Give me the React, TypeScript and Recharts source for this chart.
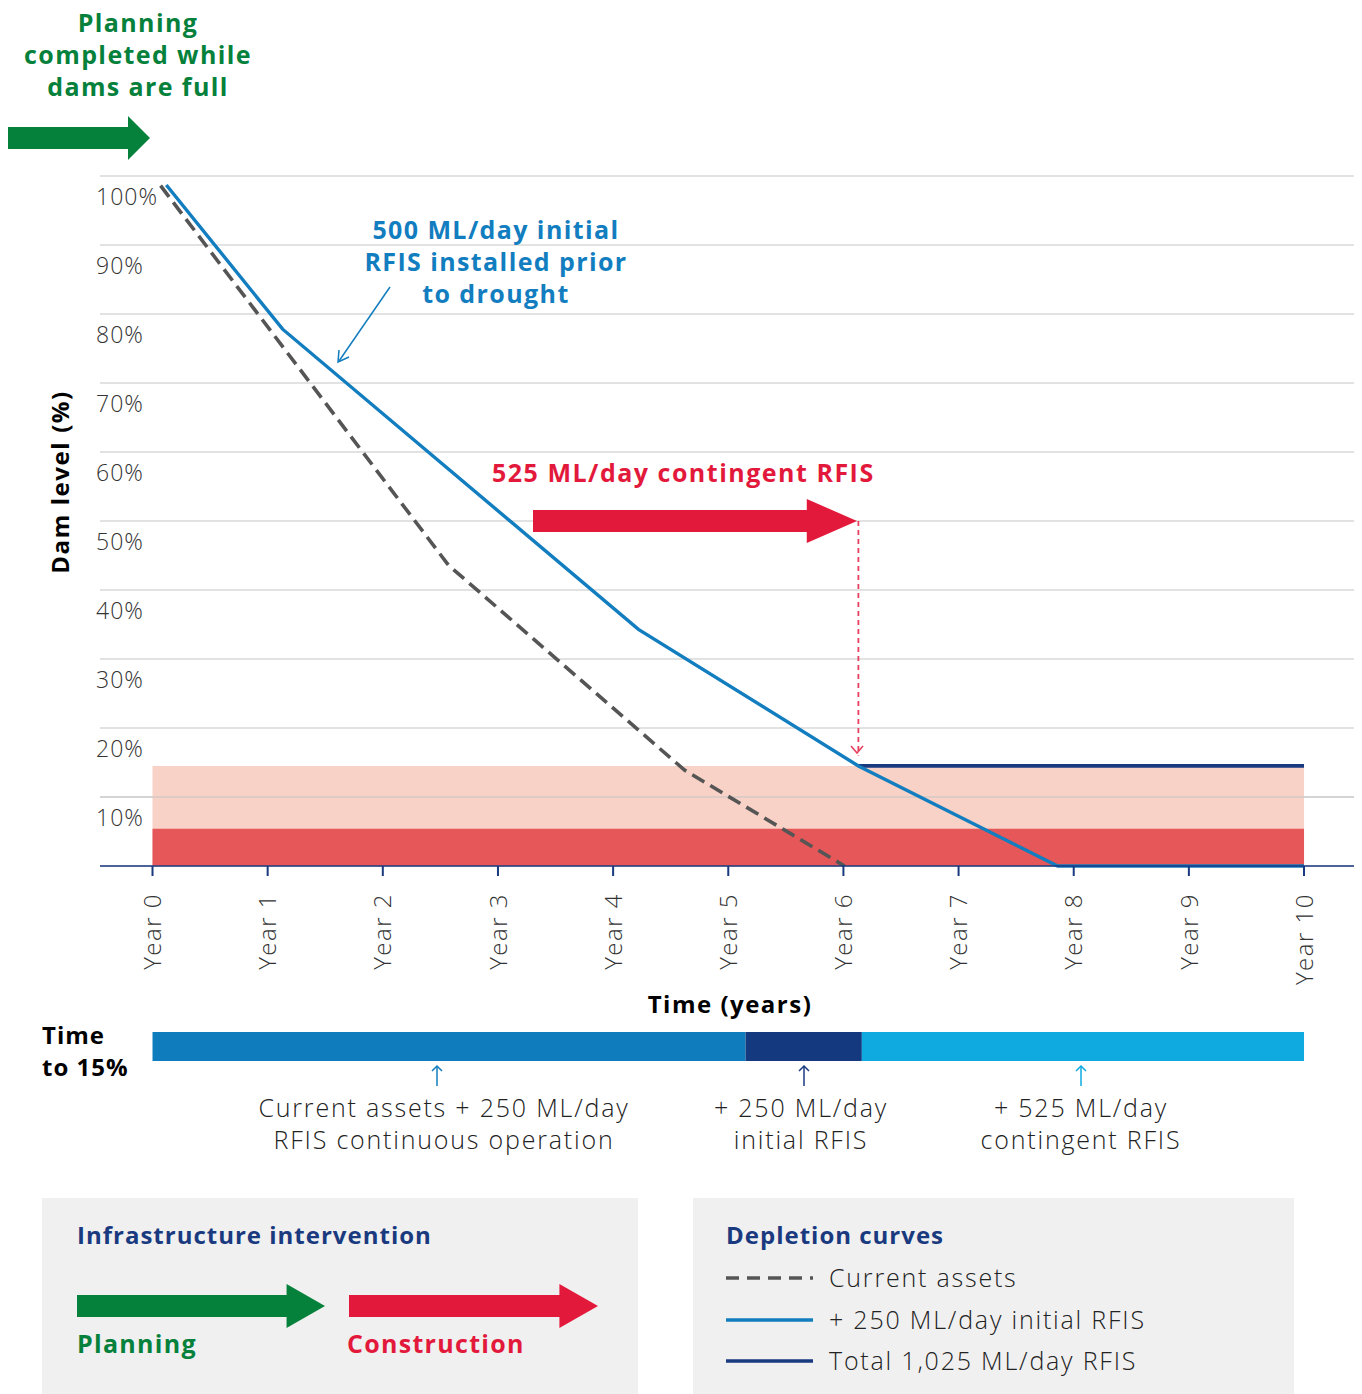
import React from "react";
import {
  Bar,
  BarChart,
  CartesianGrid,
  Line,
  LineChart,
  ReferenceArea,
  ReferenceLine,
  XAxis,
  YAxis,
} from "recharts";

// Depletion curves (year, dam level %)
const currentAssets = [
  { year: 0.07, level: 98.6 },
  { year: 2.57, level: 43.6 },
  { year: 4.62, level: 13.9 },
  { year: 6.01, level: 0 },
];

const initialRfis = [
  { year: 0.12, level: 98.7 },
  { year: 1.13, level: 77.8 },
  { year: 4.22, level: 34.3 },
  { year: 6.13, level: 14.5 },
  { year: 7.86, level: 0 },
  { year: 10, level: 0 },
];

const totalRfis = [
  { year: 6.13, level: 14.5 },
  { year: 10, level: 14.5 },
];

const yearTicks = [0, 1, 2, 3, 4, 5, 6, 7, 8, 9, 10];
const levelTicks = [10, 20, 30, 40, 50, 60, 70, 80, 90, 100];

// trigger level bands
const lowBand = 14.5;
const criticalBand = 5.4;
const contingentTrigger = { year: 6.13, from: 50, to: 16 };

// time to 15% bar (years per stage)
const timeline = [{ row: "t", current: 5.15, initial: 1.01, contingent: 3.84 }];

const timelineNotes = [
  { cx: 444, lines: ["Current assets + 250 ML/day", "RFIS continuous operation"] },
  { cx: 801, lines: ["+ 250 ML/day", "initial RFIS"] },
  { cx: 1081, lines: ["+ 525 ML/day", "contingent RFIS"] },
];

const X_DOMAIN: [number, number] = [-0.456, 10.434];

const FONT = "'Open Sans', sans-serif";
const BLUE = "#127dbf";
const NAVY = "#1a3a80";
const GREY = "#555555";
const GREEN = "#05813b";
const RED = "#e3193c";

const YearTick = (props: any) => {
  const { x, y, payload } = props;
  return (
    <text
      transform={`translate(${x},${y + 15}) rotate(-90)`}
      textAnchor="end"
      dy="0.36em"
      fill="#333"
      fontSize={24}
      fontWeight={300}
      letterSpacing={1.5}
      fontFamily={FONT}
    >
      {`Year ${payload.value}`}
    </text>
  );
};

const LevelTick = (props: any) => {
  const { y, payload } = props;
  return (
    <text
      x={96}
      y={y + 20}
      textAnchor="start"
      dominantBaseline="central"
      fill="#333"
      fontSize={23}
      fontWeight={300}
      letterSpacing={1}
      fontFamily={FONT}
    >
      {`${payload.value}%`}
    </text>
  );
};

const boldText = (color: string, size = 24, spacing = 1) => ({
  fontFamily: FONT,
  fontWeight: 700,
  fontSize: size,
  letterSpacing: spacing,
  color,
  lineHeight: "32px",
  whiteSpace: "nowrap" as const,
});

const lightText = {
  fontSize: 25,
  fontWeight: 300,
  letterSpacing: 1.8,
  lineHeight: "28px",
  color: "#222",
  whiteSpace: "nowrap" as const,
};

const Arrow = ({ x, y, w, color }: { x: number; y: number; w: number; color: string }) => {
  const head = w * 0.155;
  return (
    <polygon
      points={`${x},${y - 11} ${x + w - head},${y - 11} ${x + w - head},${y - 22} ${x + w},${y} ${x + w - head},${y + 22} ${x + w - head},${y + 11} ${x},${y + 11}`}
      fill={color}
    />
  );
};

export default function App() {
  return (
    <div
      style={{
        position: "absolute",
        left: 0,
        top: 0,
        width: 1362,
        height: 1394,
        background: "#fff",
        fontFamily: FONT,
      }}
    >
      <div style={{ position: "absolute", left: 0, top: 0 }}>
        <LineChart
          width={1362}
          height={1000}
          margin={{ top: 176, right: 8, left: 40, bottom: 14 }}
        >
          <CartesianGrid vertical={false} stroke="#c6c6c6" strokeWidth={1.2} />
          <ReferenceArea
            x1={0}
            x2={10}
            y1={0}
            y2={lowBand}
            fill="#f8d1c7"
            fillOpacity={1}
            stroke="none"
          />
          <ReferenceArea
            x1={0}
            x2={10}
            y1={0}
            y2={criticalBand}
            fill="#e55759"
            fillOpacity={1}
            stroke="none"
          />
          <ReferenceLine y={10} stroke="#c6c6c6" strokeWidth={1.2} />
          <XAxis
            type="number"
            dataKey="year"
            domain={X_DOMAIN}
            ticks={yearTicks}
            allowDataOverflow
            interval={0}
            height={120}
            axisLine={{ stroke: NAVY, strokeWidth: 1.5 }}
            tickLine={{ stroke: NAVY, strokeWidth: 2 }}
            tickSize={10}
            tick={<YearTick />}
          />
          <YAxis
            type="number"
            domain={[0, 100]}
            ticks={levelTicks}
            interval={0}
            width={60}
            axisLine={false}
            tickLine={false}
            tick={<LevelTick />}
          />
          <ReferenceLine
            segment={[
              { x: contingentTrigger.year, y: contingentTrigger.from },
              { x: contingentTrigger.year, y: contingentTrigger.to },
            ]}
            stroke="#e8405f"
            strokeWidth={1.8}
            strokeDasharray="5 4"
          />
          <Line
            data={currentAssets}
            dataKey="level"
            type="linear"
            stroke={GREY}
            strokeWidth={3.6}
            strokeDasharray="14 7"
            dot={false}
            isAnimationActive={false}
          />
          <Line
            data={totalRfis}
            dataKey="level"
            type="linear"
            stroke={NAVY}
            strokeWidth={3.8}
            dot={false}
            isAnimationActive={false}
          />
          <Line
            data={initialRfis}
            dataKey="level"
            type="linear"
            stroke={BLUE}
            strokeWidth={3.4}
            dot={false}
            isAnimationActive={false}
          />
        </LineChart>
      </div>

      {/* time to 15% bar */}
      <div style={{ position: "absolute", left: 0, top: 1020 }}>
        <BarChart
          width={1362}
          height={60}
          layout="vertical"
          data={timeline}
          margin={{ top: 12, right: 8, left: 100, bottom: 19 }}
          barCategoryGap={0}
        >
          <XAxis type="number" domain={X_DOMAIN} allowDataOverflow hide />
          <YAxis type="category" dataKey="row" hide />
          <Bar dataKey="current" stackId="a" fill="#0f7dbd" isAnimationActive={false} />
          <Bar dataKey="initial" stackId="a" fill="#14397f" isAnimationActive={false} />
          <Bar dataKey="contingent" stackId="a" fill="#0eaae0" isAnimationActive={false} />
        </BarChart>
      </div>

      {/* annotations */}
      <svg
        width={1362}
        height={1394}
        style={{ position: "absolute", left: 0, top: 0, pointerEvents: "none" }}
      >
        <Arrow x={8} y={138} w={142} color={GREEN} />
        <Arrow x={533} y={521} w={324} color={RED} />
        <polyline
          points="851,746 857,753 863,746"
          fill="none"
          stroke="#e8405f"
          strokeWidth={1.6}
        />
        <line x1={390} y1={287} x2={339} y2={361} stroke={BLUE} strokeWidth={1.5} />
        <polyline points="339,350 338,362 349,357" fill="none" stroke={BLUE} strokeWidth={1.5} />
        <text
          x={492}
          y={482}
          fill={RED}
          fontSize={25}
          fontWeight={700}
          letterSpacing={1.5}
          fontFamily={FONT}
        >
          525 ML/day contingent RFIS
        </text>
        <text
          transform="translate(60,482) rotate(-90)"
          textAnchor="middle"
          dy="0.36em"
          fill="#000"
          fontSize={24}
          fontWeight={700}
          letterSpacing={1.6}
          fontFamily={FONT}
        >
          Dam level (%)
        </text>
        <text
          x={730}
          y={1003}
          textAnchor="middle"
          dominantBaseline="central"
          fill="#000"
          fontSize={24}
          fontWeight={700}
          letterSpacing={1.5}
          fontFamily={FONT}
        >
          Time (years)
        </text>
        {/* timeline pointers */}
        <g strokeWidth={1.5} fill="none">
          <g stroke={BLUE}>
            <line x1={437} y1={1086} x2={437} y2={1066} />
            <polyline points="432,1071 437,1066 442,1071" />
          </g>
          <g stroke={NAVY}>
            <line x1={804} y1={1086} x2={804} y2={1066} />
            <polyline points="799,1071 804,1066 809,1071" />
          </g>
          <g stroke="#0eaae0">
            <line x1={1081} y1={1086} x2={1081} y2={1066} />
            <polyline points="1076,1071 1081,1066 1086,1071" />
          </g>
        </g>
      </svg>

      <div
        style={{
          position: "absolute",
          left: 0,
          top: 6,
          width: 276,
          textAlign: "center",
          ...boldText(GREEN, 25, 1.4),
        }}
      >
        Planning
        <br />
        completed while
        <br />
        dams are full
      </div>

      <div
        style={{
          position: "absolute",
          left: 346,
          top: 213,
          width: 300,
          textAlign: "center",
          ...boldText(BLUE, 25, 1.4),
        }}
      >
        500 ML/day initial
        <br />
        RFIS installed prior
        <br />
        to drought
      </div>

      <div style={{ position: "absolute", left: 42, top: 1019, ...boldText("#000", 24, 1) }}>
        Time
        <br />
        to 15%
      </div>

      {timelineNotes.map((n) =>
        n.lines.map((line, i) => (
          <div
            key={`${n.cx}-${i}`}
            style={{
              position: "absolute",
              left: n.cx - 250,
              top: 1093 + i * 32,
              width: 500,
              textAlign: "center",
              ...lightText,
            }}
          >
            {line}
          </div>
        ))
      )}

      {/* legend: infrastructure intervention */}
      <div
        style={{
          position: "absolute",
          left: 42,
          top: 1198,
          width: 596,
          height: 196,
          background: "#f0f0f0",
        }}
      >
        <div style={{ position: "absolute", left: 35, top: 21, ...boldText(NAVY, 24, 1) }}>
          Infrastructure intervention
        </div>
        <svg width={596} height={196} style={{ position: "absolute", left: 0, top: 0 }}>
          <Arrow x={35} y={108} w={248} color={GREEN} />
          <Arrow x={307} y={108} w={249} color={RED} />
        </svg>
        <div style={{ position: "absolute", left: 35, top: 129, ...boldText(GREEN, 25, 1.3) }}>
          Planning
        </div>
        <div style={{ position: "absolute", left: 305, top: 129, ...boldText(RED, 25, 1.3) }}>
          Construction
        </div>
      </div>

      {/* legend: depletion curves */}
      <div
        style={{
          position: "absolute",
          left: 693,
          top: 1198,
          width: 601,
          height: 196,
          background: "#f0f0f0",
        }}
      >
        <div style={{ position: "absolute", left: 33, top: 21, ...boldText(NAVY, 24, 1) }}>
          Depletion curves
        </div>
        {[
          { label: "Current assets", color: GREY, dash: "13 8", top: 80 },
          { label: "+ 250 ML/day initial RFIS", color: BLUE, dash: undefined, top: 122 },
          { label: "Total 1,025 ML/day RFIS", color: NAVY, dash: undefined, top: 163 },
        ].map((item) => (
          <React.Fragment key={item.label}>
            <svg
              width={90}
              height={10}
              style={{ position: "absolute", left: 33, top: item.top - 5 }}
            >
              <line
                x1={0}
                y1={5}
                x2={87}
                y2={5}
                stroke={item.color}
                strokeWidth={3.5}
                strokeDasharray={item.dash}
              />
            </svg>
            <div
              style={{
                position: "absolute",
                left: 136,
                top: item.top - 15,
                ...lightText,
              }}
            >
              {item.label}
            </div>
          </React.Fragment>
        ))}
      </div>
    </div>
  );
}
